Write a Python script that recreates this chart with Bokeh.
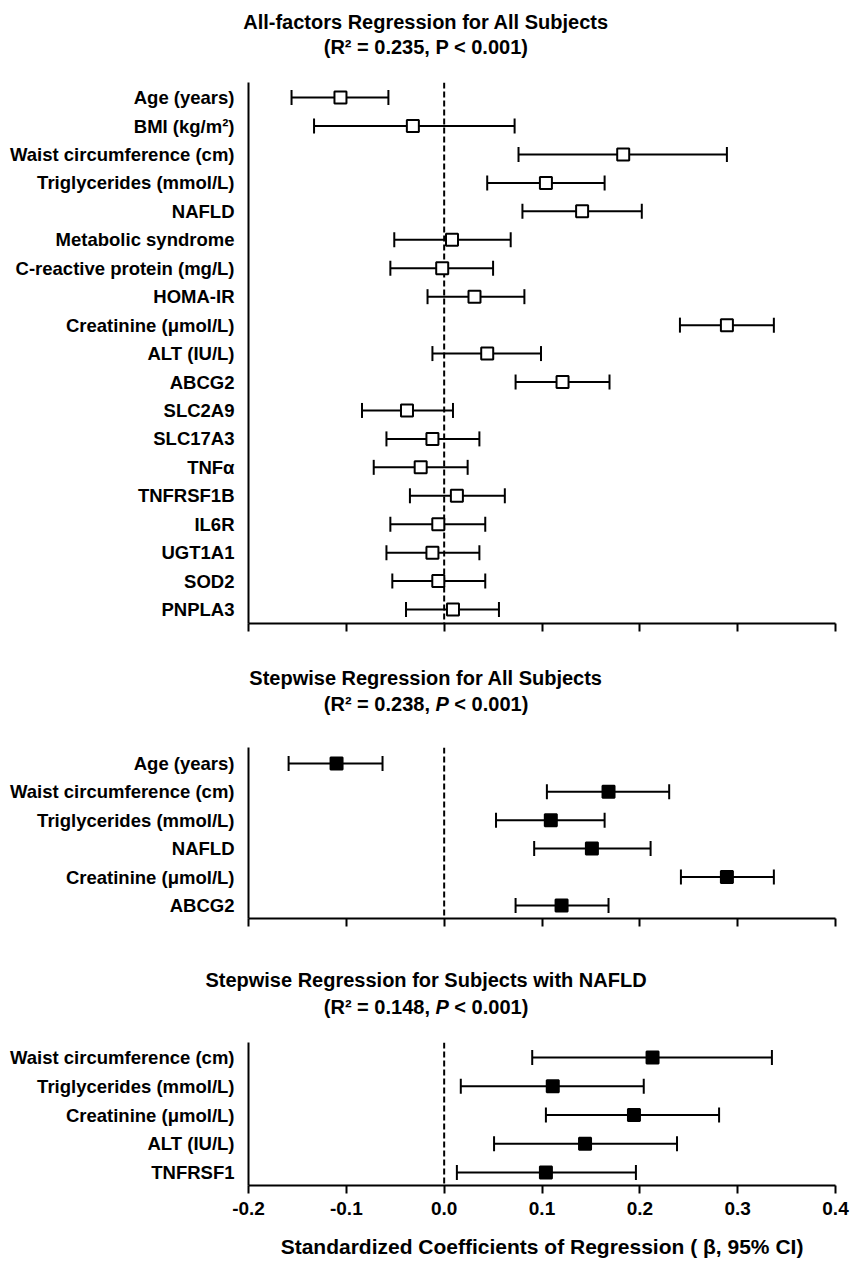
import numpy as np
from bokeh.plotting import figure
from bokeh.models import (Range1d, FixedTicker, Span, ColumnDataSource, Title,
                          NumeralTickFormatter, CustomJSTickFormatter)
from bokeh.core.properties import value
from bokeh.layouts import column
from bokeh.embed import file_html
from bokeh.resources import INLINE

FONT = "Liberation Sans"

# ---------------- data ----------------
x_ticks = [-0.2, -0.1, 0.0, 0.1, 0.2, 0.3, 0.4]

p1_labels = ["Age (years)", "BMI (kg/m²)", "Waist circumference (cm)", "Triglycerides (mmol/L)",
             "NAFLD", "Metabolic syndrome", "C-reactive protein (mg/L)", "HOMA-IR",
             "Creatinine (μmol/L)", "ALT (IU/L)", "ABCG2", "SLC2A9", "SLC17A3", "TNFα",
             "TNFRSF1B", "IL6R", "UGT1A1", "SOD2", "PNPLA3"]
p1_est = [-0.106, -0.032, 0.183, 0.104, 0.141, 0.008, -0.002, 0.031, 0.289, 0.044,
          0.121, -0.038, -0.012, -0.024, 0.013, -0.006, -0.012, -0.006, 0.009]
p1_lo = [-0.156, -0.133, 0.076, 0.044, 0.080, -0.051, -0.055, -0.017, 0.241, -0.012,
         0.073, -0.084, -0.059, -0.072, -0.035, -0.055, -0.059, -0.053, -0.039]
p1_hi = [-0.057, 0.072, 0.289, 0.164, 0.202, 0.068, 0.050, 0.082, 0.337, 0.099,
         0.169, 0.009, 0.036, 0.024, 0.062, 0.042, 0.036, 0.042, 0.056]

p2_labels = ["Age (years)", "Waist circumference (cm)", "Triglycerides (mmol/L)",
             "NAFLD", "Creatinine (μmol/L)", "ABCG2"]
p2_est = [-0.110, 0.168, 0.109, 0.151, 0.289, 0.120]
p2_lo = [-0.159, 0.105, 0.053, 0.092, 0.242, 0.073]
p2_hi = [-0.063, 0.230, 0.164, 0.211, 0.337, 0.168]

p3_labels = ["Waist circumference (cm)", "Triglycerides (mmol/L)", "Creatinine (μmol/L)",
             "ALT (IU/L)", "TNFRSF1"]
p3_est = [0.213, 0.111, 0.194, 0.144, 0.104]
p3_lo = [0.090, 0.017, 0.104, 0.051, 0.013]
p3_hi = [0.335, 0.204, 0.281, 0.238, 0.196]

title_main = ["All-factors Regression for All Subjects",
              "Stepwise Regression for All Subjects",
              "Stepwise Regression for Subjects with NAFLD"]
title_sub = [["(R² = 0.235, P < 0.001)"],
             ["(R² = 0.238,", "P", "< 0.001)"],
             ["(R² = 0.148,", "P", "< 0.001)"]]
x_label = "Standardized Coefficients of Regression ( β, 95% CI)"

W = 850
FRAME_L, FRAME_R = 248, 835
TITLE_CX = 425.5
MAIN_WIDTH_EM = [18.28, 17.67, 22.06]   # Arial-bold text widths, used to centre the line
MAIN_STANDOFF = [3, 6, 7]


def title_fig(page_top, h, frame_top, idx):
    """Strip holding one two-line panel title; y range in page pixels."""
    t = figure(width=W, height=h, output_backend="svg", toolbar_location=None,
               x_range=Range1d(FRAME_L, FRAME_R),
               y_range=Range1d(page_top + h, frame_top),
               x_axis_type=None, y_axis_type=None,
               min_border_left=FRAME_L, min_border_right=W - FRAME_R,
               min_border_top=frame_top - page_top, min_border_bottom=0)
    t.outline_line_color = None
    t.xgrid.visible = False
    t.ygrid.visible = False
    # first line as a real plot title (may extend left of the frame)
    start = TITLE_CX - MAIN_WIDTH_EM[idx] * 20 / 2
    t.add_layout(Title(text=title_main[idx], align="left", offset=start - FRAME_L,
                       text_font=FONT, text_font_size="20px", text_font_style="bold",
                       text_color="black", standoff=MAIN_STANDOFF[idx]), "above")
    # second line with an italic P
    y2 = frame_top + 12
    common = dict(text_font=value(FONT), text_font_size=value("20px"),
                  text_baseline="middle", text_color="black")
    parts = title_sub[idx]
    if len(parts) == 1:
        t.text(x=[TITLE_CX], y=[y2], text=[parts[0]], text_align="center",
               text_font_style="bold", **common)
    else:
        sp = 5.56
        w1, wp, w3 = 106.2, 13.3, 73.9
        s = TITLE_CX - (w1 + sp + wp + sp + w3) / 2
        t.text(x=[s + w1], y=[y2], text=[parts[0]], text_align="right",
               text_font_style="bold", **common)
        t.text(x=[s + w1 + sp], y=[y2], text=[parts[1]], text_align="left",
               text_font_style="bold italic", **common)
        t.text(x=[s + w1 + sp + wp + sp], y=[y2], text=[parts[2]], text_align="left",
               text_font_style="bold", **common)
    return t


def make_panel(labels, est, lo, hi, filled, top, frame_h, bottom, pad_top, pad_bot, show_x):
    n = len(labels)
    p = figure(width=W, height=top + frame_h + bottom, output_backend="svg",
               toolbar_location=None,
               x_range=Range1d(-0.2, 0.4), y_range=Range1d(n - 1 + pad_bot, -pad_top),
               min_border_left=FRAME_L, min_border_right=W - FRAME_R, min_border_top=top,
               min_border_bottom=bottom)
    p.outline_line_color = None
    p.xgrid.visible = False
    p.ygrid.visible = False

    p.add_layout(Span(location=0, dimension="height", line_dash="6 3", line_width=2,
                      line_color="black", level="underlay"))

    src = ColumnDataSource(dict(y=list(range(n)), est=est, lo=lo, hi=hi))
    p.segment(x0="lo", y0="y", x1="hi", y1="y", source=src, line_width=2, line_color="black")
    p.scatter(x="lo", y="y", source=src, marker="dash", angle=np.pi / 2, size=15,
              line_width=2, line_color="black")
    p.scatter(x="hi", y="y", source=src, marker="dash", angle=np.pi / 2, size=15,
              line_width=2, line_color="black")
    p.scatter(x="est", y="y", source=src, marker="square", size=12,
              line_width=2, line_color="black",
              fill_color="black" if filled else "white")

    ya = p.yaxis[0]
    ya.ticker = FixedTicker(ticks=list(range(n)))
    ya.major_label_overrides = {i: s for i, s in enumerate(labels)}
    ya.major_tick_out = 0
    ya.major_tick_in = 0
    ya.minor_tick_line_color = None
    ya.axis_line_width = 2
    ya.major_label_standoff = 14
    ya.major_label_text_font = FONT
    ya.major_label_text_font_style = "bold"
    ya.major_label_text_font_size = "18.5px"
    ya.major_label_text_color = "black"

    xa = p.xaxis[0]
    xa.ticker = FixedTicker(ticks=x_ticks)
    xa.major_tick_out = 8
    xa.major_tick_in = 0
    xa.minor_tick_line_color = None
    xa.axis_line_width = 2
    xa.major_tick_line_width = 2
    if show_x:
        xa.formatter = NumeralTickFormatter(format="0.0")
        xa.major_label_text_font = FONT
        xa.major_label_text_font_style = "bold"
        xa.major_label_text_font_size = "19px"
        xa.major_label_text_color = "black"
        xa.major_label_standoff = 8
        xa.axis_label = x_label
        xa.axis_label_text_font = FONT
        xa.axis_label_text_font_style = "bold"
        xa.axis_label_text_font_size = "21px"
        xa.axis_label_text_color = "black"
        xa.axis_label_standoff = 17
    else:
        xa.formatter = CustomJSTickFormatter(code="return ''")
        xa.major_label_text_font_size = "1px"
    return p


t1 = title_fig(0, 62, 34, 0)
p1 = make_panel(p1_labels, p1_est, p1_lo, p1_hi, False, 20, 541, 27, 0.53, 0.49, False)
t2 = title_fig(650, 80, 691, 1)
p2 = make_panel(p2_labels, p2_est, p2_lo, p2_hi, True, 17, 171, 27, 0.56, 0.46, False)
t3 = title_fig(945, 80, 994, 2)
p3 = make_panel(p3_labels, p3_est, p3_lo, p3_hi, True, 17, 143, 80, 0.52, 0.45, True)

layout = column(t1, p1, t2, p2, t3, p3, spacing=0)
open("out.html", "w").write(file_html(layout, INLINE))
